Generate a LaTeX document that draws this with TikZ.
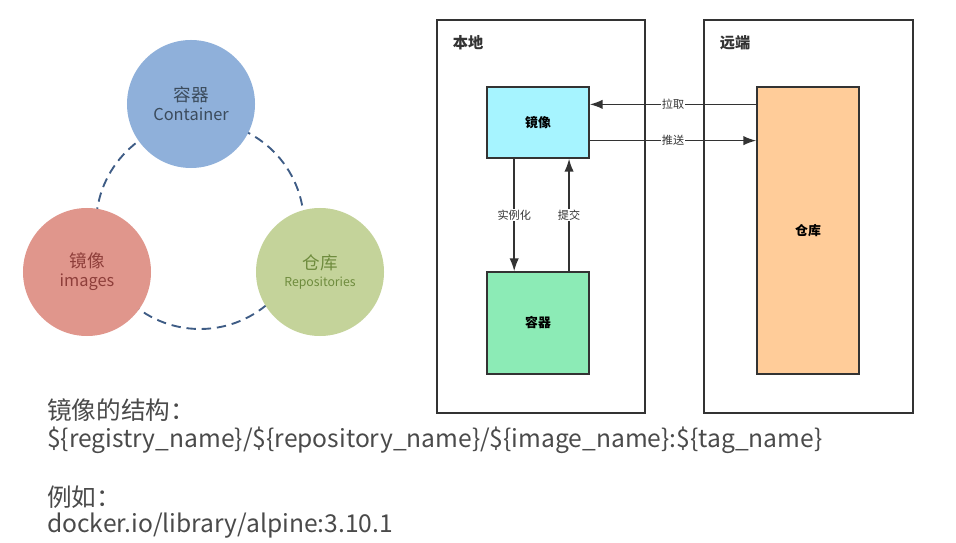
\documentclass[tikz,border=0pt]{standalone}
\usepackage{fontspec}
\setmainfont{Noto Sans CJK SC}
\usetikzlibrary{arrows.meta,calc}
\definecolor{line}{HTML}{333333}
\definecolor{dashc}{HTML}{3E5C85}
\definecolor{cblue}{HTML}{8FB0DA}
\definecolor{cred}{HTML}{E0968C}
\definecolor{cgreen}{HTML}{C4D39A}
\definecolor{tblue}{HTML}{3B4B5C}
\definecolor{tred}{HTML}{8E3E3A}
\definecolor{tgreen}{HTML}{6E8B3D}
\definecolor{imgf}{HTML}{A6F4FF}
\definecolor{ctrf}{HTML}{8CEBB6}
\definecolor{repof}{HTML}{FFCC99}
\definecolor{txtc}{HTML}{4A4A4A}
\begin{document}
\begin{tikzpicture}[x=0.03cm,y=-0.03cm,
circ/.style={circle,minimum size=3.84cm,inner sep=0pt,align=center},
box/.style={draw=line,line width=1.3pt,minimum width=3.06cm,font=\bfseries\fontsize{11}{13}\selectfont},
frame/.style={draw=line,line width=1.2pt,minimum width=6.24cm,minimum height=11.79cm},
arr/.style={draw=line,line width=1.3pt,-{Latex[length=11pt,width=8pt]}},
lbl/.style={fill=white,inner sep=1pt,font=\fontsize{9.5}{11}\selectfont,text=line},
ttl/.style={font=\bfseries\fontsize{13}{15}\selectfont,text=line},
txt/.style={anchor=west,inner sep=0pt,text=txtc,font=\fontsize{21}{24}\selectfont}]
\useasboundingbox(0,0)rectangle(956,543);
\draw[dashc,line width=1.6pt,dash pattern=on 8pt off 5pt](200,225)circle[radius=104];
\node[circ,fill=cblue,text=tblue](cont)at(191,104){{\fontsize{15}{20}\selectfont 容器}\\[3pt]{\fontsize{14}{16}\selectfont Container}};
\node[circ,fill=cred,text=tred](imgs)at(87,272){{\fontsize{15}{20}\selectfont 镜像}\\[3pt]{\fontsize{14}{16}\selectfont images}};
\node[circ,fill=cgreen,text=tgreen](repos)at(320,272){{\fontsize{15}{20}\selectfont 仓库}\\[3pt]{\fontsize{10.5}{14}\selectfont Repositories}};
\node[frame](local)at(541,216.5){};
\node[frame,minimum width=6.27cm](remote)at(808.5,216.5){};
\node[ttl](localt)at(468,43){本地};
\node[ttl](remotet)at(735,43){远端};
\node[box,fill=imgf,minimum height=2.13cm](img)at(538,122.5){镜像};
\node[box,fill=ctrf,minimum height=3.06cm](ctr)at(538,323){容器};
\node[box,fill=repof,minimum height=8.61cm](repo)at(808,230.5){仓库};
\coordinate(pull)at($(img.north east)!0.25!(img.south east)$);
\coordinate(push)at($(img.north east)!0.75!(img.south east)$);
\coordinate(inst)at($(img.south west)!0.27!(img.south east)$);
\coordinate(commit)at($(img.south west)!0.8!(img.south east)$);
\draw[arr](repo.west|-pull)--(pull)node[midway,lbl]{拉取};
\draw[arr](push)--(repo.west|-push)node[midway,lbl]{推送};
\draw[arr](inst)--(ctr.north-|inst)node[midway,lbl]{实例化};
\draw[arr](ctr.north-|commit)--(commit)node[midway,lbl]{提交};
\node[txt](struct)at(47,410){镜像的结构：};
\node[txt](fmt)at(47,440){\$\{registry\_name\}/\$\{repository\_name\}/\$\{image\_name\}:\$\{tag\_name\}};
\node[txt](eg)at(47,497){例如：};
\node[txt](exmp)at(47,526){docker.io/library/alpine:3.10.1};
\end{tikzpicture}
\end{document}
